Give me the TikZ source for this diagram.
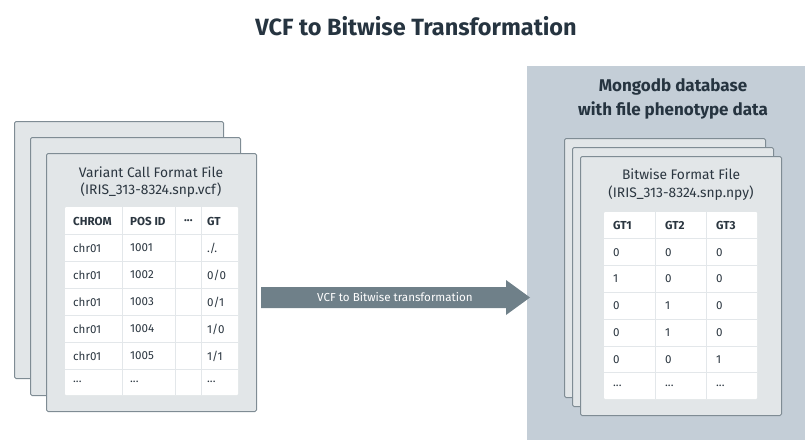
\documentclass[tikz,border=0pt]{standalone}
\usepackage{fontspec}
\setmainfont{Fira Sans}
\definecolor{titlec}{HTML}{263440}
\definecolor{cardfill}{HTML}{E2E6E8}
\definecolor{cardline}{HTML}{7F8C94}
\definecolor{panelc}{HTML}{C4CED7}
\definecolor{arrowc}{HTML}{6F8089}
\definecolor{gridc}{HTML}{E3E7EA}
\definecolor{cellc}{HTML}{2B3640}
\newcommand\myell{...}
\begin{document}
\begin{tikzpicture}[x=1pt,y=-1pt,
  card/.style={draw=cardline, fill=cardfill, line width=1pt, rounded corners=1.5pt, anchor=north west, inner sep=0pt},
  cardtitle/.style={text=cellc, font=\fontsize{13.8}{15}\selectfont, inner sep=0pt},
  hdr/.style={text=cellc, font=\bfseries\fontsize{11.6}{13}\selectfont, anchor=west, inner sep=0pt},
  cell/.style={text=cellc, font=\fontsize{11.6}{13}\selectfont, anchor=west, inner sep=0pt},
  grid/.style={draw=gridc, line width=1pt}]
\useasboundingbox (0,0) rectangle (805,439);

% title
\node[text=titlec, font=\bfseries\fontsize{23.5}{27}\selectfont, inner sep=0pt] (title) at (416,26) {VCF to Bitwise Transformation};

% ---------- left stack ----------
\node[card, minimum width=209pt, minimum height=257pt] (lc1) at (14,121) {};
\node[card, minimum width=210pt, minimum height=258pt] (lc2) at (30,137) {};
\node[card, minimum width=210pt, minimum height=258pt] (lc3) at (46,153) {};
\node[cardtitle] (lt1) at (151,172) {Variant Call Format File};
\node[cardtitle] (lt2) at (151,190) {(IRIS\_313-8324.snp.vcf)};

\fill[white, rounded corners=1pt] (65,207) rectangle (238,395);
\foreach \y in {234,261,288,315,342,369} \draw[grid] (65,\y) -- (238,\y);
\foreach \x in {122,175,201} \draw[grid] (\x,207) -- (\x,395);

\node[hdr] (lh1) at (73,221) {CHROM};
\node[hdr] (lh2) at (130,221) {POS ID};
\node[hdr] (lh3) at (184,221) {\myell};
\node[hdr] (lh4) at (207,221) {GT};
\foreach \r/\gt [count=\i] in {1001/{./.}, 1002/{0/0}, 1003/{0/1}, 1004/{1/0}, 1005/{1/1}}{
  \pgfmathsetmacro{\yy}{221+27*\i}
  \node[cell] (la\i) at (73,\yy) {chr01};
  \node[cell] (lb\i) at (130,\yy) {\r};
  \node[cell] (ld\i) at (207,\yy) {\gt};
}
\node[cell] (la6) at (73,382) {\myell};
\node[cell] (lb6) at (130,382) {\myell};
\node[cell] (ld6) at (207,382) {\myell};

% ---------- right panel ----------
\node[fill=panelc, anchor=north west, minimum width=280pt, minimum height=375pt, inner sep=0pt] (panel) at (527,66) {};
\node[text=titlec, font=\bfseries\fontsize{17}{19}\selectfont, inner sep=0pt] (pt1) at (673,87) {Mongodb database};
\node[text=titlec, font=\bfseries\fontsize{17}{19}\selectfont, inner sep=0pt] (pt2) at (673,110) {with file phenotype data};

\node[card, minimum width=201pt, minimum height=259pt] (rc1) at (564,138) {};
\node[card, minimum width=201pt, minimum height=259pt] (rc2) at (572,147) {};
\node[card, minimum width=201pt, minimum height=259pt] (rc3) at (580,156) {};
\node[cardtitle] (rt1) at (681,174) {Bitwise Format File};
\node[cardtitle] (rt2) at (681,193) {(IRIS\_313-8324.snp.npy)};

\fill[white, rounded corners=1pt] (604,212) rectangle (757,399);
\foreach \i in {1,...,6} \draw[grid] (604,{212+26.8*\i}) -- (757,{212+26.8*\i});
\foreach \x in {655,706} \draw[grid] (\x,212) -- (\x,399);

\node[hdr] (rh1) at (613,225.4) {GT1};
\node[hdr] (rh2) at (665,225.4) {GT2};
\node[hdr] (rh3) at (716,225.4) {GT3};
\foreach \a/\b/\c [count=\i] in {0/0/0, 1/0/0, 0/1/0, 0/1/0, 0/0/1, \myell/\myell/\myell}{
  \pgfmathsetmacro{\yy}{225.4+26.8*\i}
  \node[cell] (ra\i) at (613,\yy) {\a};
  \node[cell] (rb\i) at (665,\yy) {\b};
  \node[cell] (rd\i) at (716,\yy) {\c};
}

% ---------- arrow ----------
\fill[arrowc] (261,287) -- (506,287) -- (506,280) -- (530,297.5) -- (506,315) -- (506,308) -- (261,308) -- cycle;
\node[text=white, font=\fontsize{11.6}{13}\selectfont, inner sep=0pt] (arrowlabel) at (395,297.5) {VCF to Bitwise transformation};
\end{tikzpicture}
\end{document}
